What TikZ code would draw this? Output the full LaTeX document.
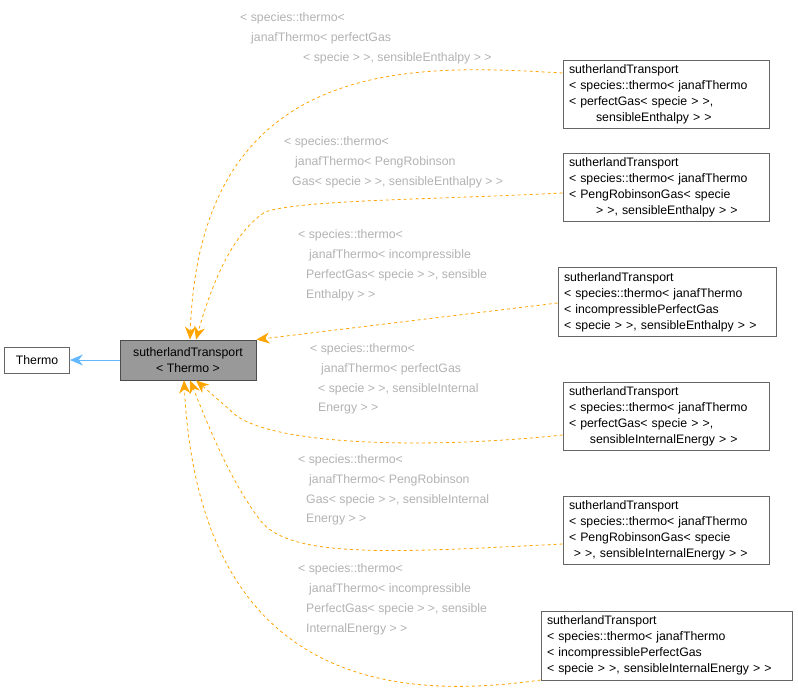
\documentclass[tikz,border=0pt]{standalone}
\usepackage{fontspec}
\setmainfont{Liberation Sans}
\usetikzlibrary{arrows.meta}
\definecolor{dorange}{HTML}{FFA500}
\definecolor{iblue}{HTML}{63B8FF}
\begin{document}
\begin{tikzpicture}[x=1pt,y=-1pt,
 box/.style={draw=black!60,fill=white,align=left,inner sep=0pt,font=\fontsize{12.3}{16}\selectfont,line width=0.8pt},
 lbl/.style={anchor=west,inner sep=0pt,text=black!30,font=\fontsize{12.3}{16}\selectfont},
 dep/.style={draw=dorange,dashed,line width=0.8pt,-{Stealth[length=13pt,width=11pt,fill=dorange]}},
 inh/.style={draw=iblue,line width=0.8pt,-{Stealth[length=13pt,width=11pt,fill=iblue]}}]
\useasboundingbox (0,0) rectangle (798,694);
\node[box,minimum width=65,minimum height=26,align=center] (thermo) at (37,360) {Thermo};
\node[box,fill=black!40,draw=black!70,minimum width=136,minimum height=40,align=center] (st) at (188,360) {sutherlandTransport\\< Thermo >};
\node[box,minimum width=206,minimum height=68,text width=194] (b1) at (666,94) {sutherlandTransport\\< species::thermo< janafThermo\\< perfectGas< specie > >,\\\hspace*{2.2em}sensibleEnthalpy > >};
\node[box,minimum width=206,minimum height=68,text width=194] (b2) at (666,187) {sutherlandTransport\\< species::thermo< janafThermo\\< PengRobinsonGas< specie\\\hspace*{2.2em}> >, sensibleEnthalpy > >};
\node[box,minimum width=218,minimum height=69,text width=206] (b3) at (667,302) {sutherlandTransport\\< species::thermo< janafThermo\\< incompressiblePerfectGas\\< specie > >, sensibleEnthalpy > >};
\node[box,minimum width=206,minimum height=68,text width=194] (b4) at (666,416) {sutherlandTransport\\< species::thermo< janafThermo\\< perfectGas< specie > >,\\\hspace*{1.7em}sensibleInternalEnergy > >};
\node[box,minimum width=206,minimum height=68,text width=194] (b5) at (666,530) {sutherlandTransport\\< species::thermo< janafThermo\\< PengRobinsonGas< specie\\\hspace*{0.4em}> >, sensibleInternalEnergy > >};
\node[box,minimum width=251,minimum height=69,text width=239] (b6) at (666.5,645.5) {sutherlandTransport\\< species::thermo< janafThermo\\< incompressiblePerfectGas\\< specie > >, sensibleInternalEnergy > >};
\draw[inh] (st) -- (thermo);
\draw[dep] (b1.west|-0,73) .. controls (420,65) and (200,50) .. ([xshift=2pt]st.north);
\draw[dep] (b2.west|-0,193) .. controls (420,200) and (300,200) .. (265,212) .. controls (230,235) and (210,290) .. ([xshift=8pt]st.north);
\draw[dep] (b3.west|-0,303) -- (st.north east);
\draw[dep] (b4.west|-0,435) .. controls (420,450) and (260,445) .. (230,410) -- ([xshift=8pt]st.south);
\draw[dep] (b5.west|-0,544) .. controls (400,552) and (290,560) .. (260,520) .. controls (230,480) and (210,430) .. ([xshift=2pt]st.south);
\draw[dep] (b6.west|-0,680) .. controls (400,700) and (200,690) .. ([xshift=-4pt]st.south);
\node[lbl] (l1a) at (240,18) {< species::thermo<};
\node[lbl] (l1b) at (251,38) {janafThermo< perfectGas};
\node[lbl] (l1c) at (303,58) {< specie > >, sensibleEnthalpy > >};
\node[lbl] (l2a) at (284,142) {< species::thermo<};
\node[lbl] (l2b) at (295,162) {janafThermo< PengRobinson};
\node[lbl] (l2c) at (292,182) {Gas< specie > >, sensibleEnthalpy > >};
\node[lbl] (l3a) at (298,235) {< species::thermo<};
\node[lbl] (l3b) at (309,255) {janafThermo< incompressible};
\node[lbl] (l3c) at (306,275) {PerfectGas< specie > >, sensible};
\node[lbl] (l3d) at (306,295) {Enthalpy > >};
\node[lbl] (l4a) at (310,349) {< species::thermo<};
\node[lbl] (l4b) at (321,369) {janafThermo< perfectGas};
\node[lbl] (l4c) at (318,389) {< specie > >, sensibleInternal};
\node[lbl] (l4d) at (318,409) {Energy > >};
\node[lbl] (l5a) at (298,460) {< species::thermo<};
\node[lbl] (l5b) at (309,480) {janafThermo< PengRobinson};
\node[lbl] (l5c) at (306,500) {Gas< specie > >, sensibleInternal};
\node[lbl] (l5d) at (306,520) {Energy > >};
\node[lbl] (l6a) at (298,569) {< species::thermo<};
\node[lbl] (l6b) at (309,589) {janafThermo< incompressible};
\node[lbl] (l6c) at (306,609) {PerfectGas< specie > >, sensible};
\node[lbl] (l6d) at (306,629) {InternalEnergy > >};
\end{tikzpicture}
\end{document}
